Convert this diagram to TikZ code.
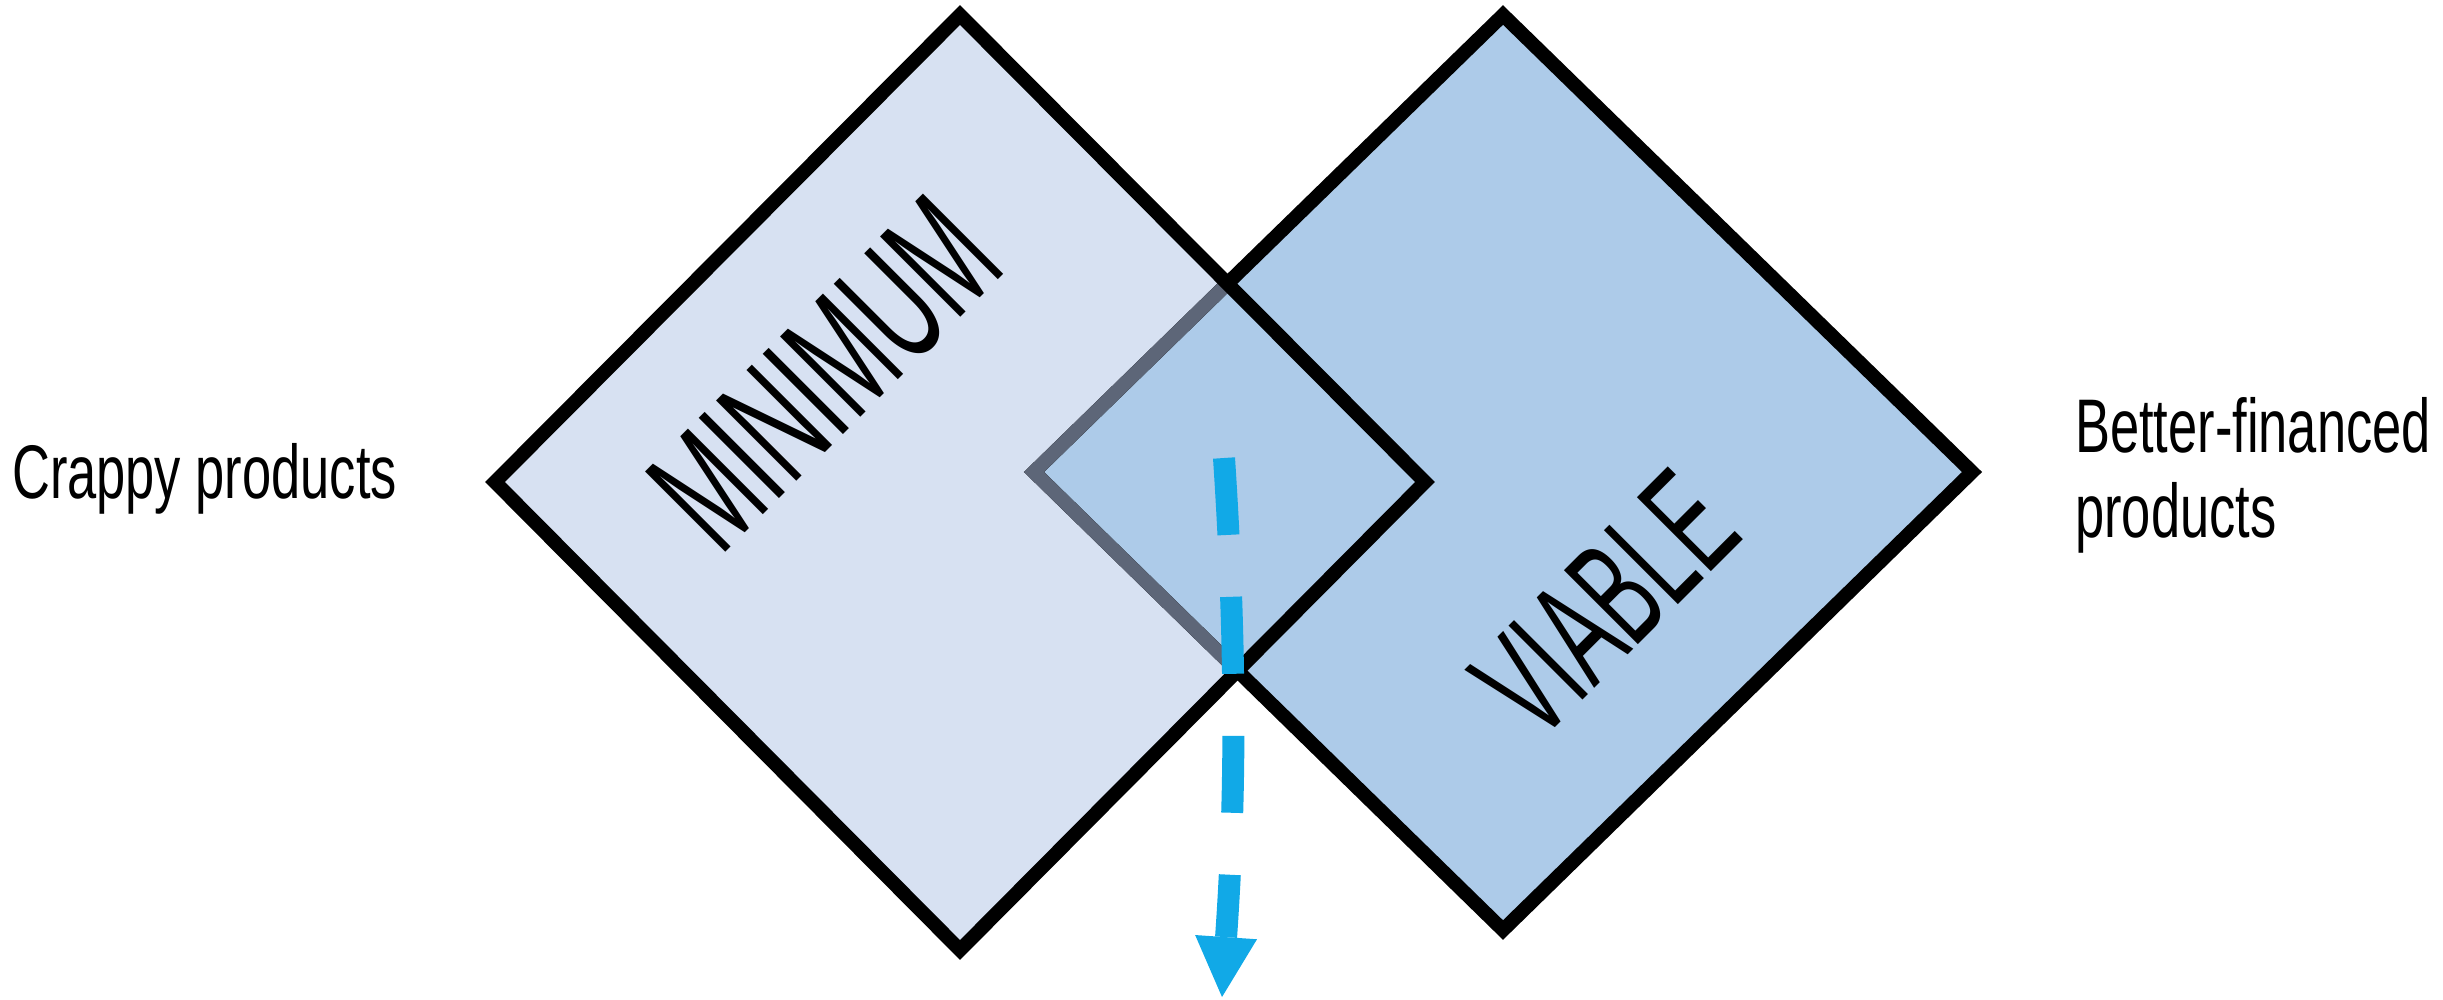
\documentclass[tikz,border=0pt]{standalone}
\usepackage{fontspec}
\usetikzlibrary{arrows.meta}
\newfontfamily\labelfont[FakeStretch=0.69]{Liberation Sans}
\newfontfamily\bigfont{Liberation Sans}
\definecolor{minfill}{HTML}{D7E1F2}
\definecolor{viafill}{HTML}{ADCBE9}
\definecolor{overedge}{HTML}{5D6678}
\definecolor{arrowcyan}{HTML}{11A9E7}
\tikzset{
  edge/.style={line width=14pt, line join=miter},
  sidelabel/.style={anchor=base west, inner sep=0pt, align=left,
    font=\labelfont\fontsize{76}{85}\selectfont},
  biglabel/.style={rotate=45, xscale=0.55, inner sep=0pt,
    font=\bigfont\fontsize{#1}{#1}\selectfont},
  flowarrow/.style={draw=arrowcyan, line width=22pt, dash pattern=on 77pt off 62pt,
    -{Triangle[width=62pt,length=60pt,line width=0pt]}}
}
\begin{document}
\begin{tikzpicture}[x=1pt,y=-1pt]
\fill[white] (0,0) rectangle (2443,999);
\useasboundingbox (0,0) rectangle (2443,999);
% left diamond vertices
\coordinate (LT) at (960,15);
\coordinate (LL) at (495,482);
\coordinate (LB) at (960,950);
\coordinate (LR) at (1425,482);
% right diamond vertices
\coordinate (RT) at (1503,15);
\coordinate (RR) at (1972,472);
\coordinate (RB) at (1503,930);
\coordinate (RL) at (1034,472);
% fills
\fill[minfill] (LT)--(LL)--(LB)--(LR)--cycle;
\filldraw[edge, fill=viafill, draw=black] (RT)--(RR)--(RB)--(RL)--cycle;
\begin{scope}
  \clip (LT)--(LL)--(LB)--(LR)--cycle;
  \draw[edge, draw=overedge] (RT)--(RR)--(RB)--(RL)--cycle;
\end{scope}
\draw[edge, draw=black] (LT)--(LL)--(LB)--(LR)--cycle;
% labels
\node[biglabel=165] (minimum) at (825,374) {MINIMUM};
\node[biglabel=152] (viable) at (1605,604) {VIABLE};
\node[sidelabel] (crappy) at (12,498) {Crappy products};
\node[sidelabel] (better) at (2075,537) {Better-financed\\products};
% arrow
\coordinate (arrowstart) at (1224,458);
\coordinate (arrowend) at (1222,997);
\draw[flowarrow] (arrowstart) .. controls (1240,700) and (1232,850) .. (arrowend);
\end{tikzpicture}
\end{document}
